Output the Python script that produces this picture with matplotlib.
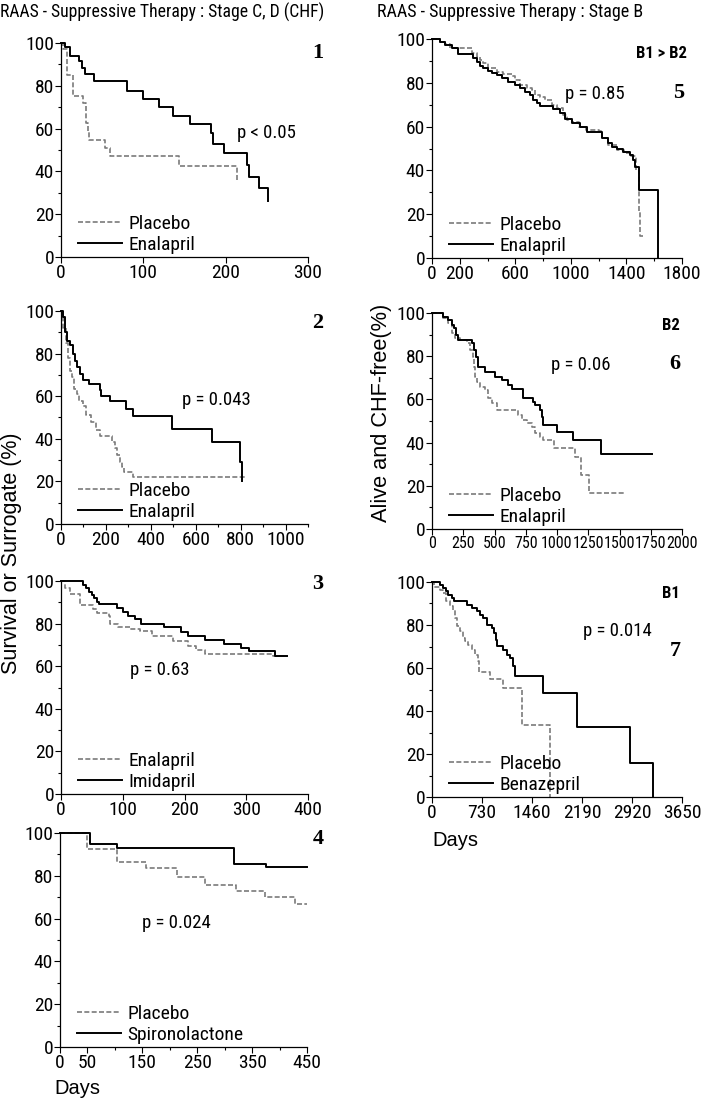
import matplotlib
matplotlib.use("Agg")
import matplotlib.pyplot as plt
from matplotlib import font_manager
from matplotlib.ticker import MultipleLocator, FixedLocator

# pick a narrow sans face if one is installed, else plain Liberation Sans
entries = font_manager.fontManager.ttflist
names = {f.name for f in entries}
narrow = None
for cand in ['Liberation Sans Narrow', 'Roboto Condensed', 'Open Sans Condensed',
             'Noto Sans Condensed', 'DejaVu Sans Condensed', 'Arial Narrow']:
    if cand in names:
        narrow = cand
        break
stretch = 'normal'
if narrow is None:
    for f in entries:
        if str(f.stretch) == 'condensed' and f.style == 'normal' and f.weight in (400, 'normal', 'regular'):
            narrow, stretch = f.name, 'condensed'
            break
if narrow is None:
    narrow = 'Liberation Sans'
    scale = 0.86
else:
    scale = 1.0

plt.rcParams['font.family'] = [narrow, 'DejaVu Sans']
plt.rcParams['font.stretch'] = stretch

# ---- data (days, % surviving) ----
# panel 1 : placebo vs enalapril
p1_plac_t = [0, 3, 7, 14, 27, 30, 33, 34, 53, 60, 143, 214]
p1_plac_s = [100, 97, 85, 75.3, 72, 62.8, 58.6, 54.7, 50.8, 47.2, 42.7, 36]
p1_enal_t = [0, 5, 11, 22, 26, 29, 40, 80, 99, 119, 136, 157, 182, 185, 198, 226, 228, 240, 251]
p1_enal_s = [100, 98, 93.7, 91.7, 88.3, 85.6, 82.3, 77.8, 73.9, 70, 65.9, 62, 57.8, 53, 48.8, 43, 37.5, 32.3, 26]

# panel 2 : placebo vs enalapril
p2_plac_t = [0, 3, 10, 22, 33, 40, 47, 58, 70, 81, 99, 111, 132, 158, 173, 225, 240, 250, 262, 270, 280, 321, 825]
p2_plac_s = [100, 98, 92, 84.8, 78, 72, 68.8, 63.6, 61, 57.8, 55.5, 51, 47.9, 44, 41.4, 38.6, 35.5, 32.3, 29.2, 26.9, 24.5, 21.9, 21.9]
p2_enal_t = [0, 10, 18, 25, 40, 52, 62, 73, 84, 99, 126, 173, 178, 218, 289, 321, 495, 674, 796, 807]
p2_enal_s = [100, 97, 90, 86, 84, 80, 76.5, 73.8, 70.6, 67.8, 65.6, 63, 60, 57.8, 54, 50.8, 44.4, 38.6, 29.2, 20.3]

# panel 3 : enalapril vs imidapril
p3_enal_t = [0, 6, 15, 30, 52, 59, 77, 79, 93, 112, 128, 147, 182, 205, 219, 233, 343, 366]
p3_enal_s = [100, 96.6, 94, 88.8, 86.7, 85, 83.6, 80, 78.6, 77.3, 76.5, 74.2, 71.7, 69.5, 67.5, 65.6, 65, 64.5]
p3_imid_t = [0, 35, 40, 46, 50, 54, 58, 62, 90, 100, 108, 120, 130, 166, 195, 205, 234, 264, 292, 305, 346, 366]
p3_imid_s = [100, 98, 96.5, 95, 93.4, 91.9, 90.3, 89, 87.2, 85.5, 83.6, 82, 79.8, 78.3, 76.2, 74.2, 72.3, 70.3, 68.7, 67.2, 65, 65]

# panel 4 : placebo vs spironolactone
p4_plac_t = [0, 50, 103, 157, 213, 265, 320, 374, 428, 450]
p4_plac_s = [100, 92.7, 86.3, 83.7, 79.5, 75.6, 73, 69.9, 67, 67]
p4_spir_t = [0, 54, 103, 317, 375, 450]
p4_spir_s = [100, 95, 93, 85.7, 84, 84]

# panel 5 : stage B1 > B2, placebo vs enalapril
p5_plac_t = [0, 58, 94, 130, 286, 322, 346, 370, 406, 466, 514, 574, 598, 634, 682, 718, 742, 778, 814,
             862, 898, 946, 970, 1010, 1060, 1110, 1200, 1222, 1270, 1330, 1380, 1430, 1470, 1490, 1500, 1517]
p5_plac_s = [100, 98.8, 97.5, 96, 93.5, 91.9, 90.4, 88.9, 86.9, 85, 83.9, 83.3, 81.3, 79, 77.8, 76.7, 74.4, 73.7, 72.1,
             69.9, 68.3, 65.5, 63, 62, 60, 58.5, 58, 55, 51.5, 49.5, 48, 46.5, 40, 21, 10, 10]
p5_enal_t = [0, 58, 94, 142, 190, 298, 322, 346, 370, 406, 430, 466, 502, 550, 598, 634, 670, 706, 730, 754,
             778, 874, 922, 960, 1006, 1066, 1114, 1222, 1270, 1294, 1330, 1378, 1426, 1450, 1462, 1493, 1630]
p5_enal_s = [100, 98.5, 97.3, 95.7, 93.1, 91.2, 89.3, 87.8, 86.6, 85.4, 84.6, 83.6, 82, 80.5, 79, 77.5, 76, 74.4, 72.1, 70.6,
             69.6, 68, 66, 63.5, 61.5, 60, 57.7, 54.6, 52.4, 50.6, 49.7, 48.6, 47.1, 44.8, 41.7, 31, 0]

# panel 6 : stage B2, placebo vs enalapril
p6_plac_t = [0, 91, 131, 157, 184, 224, 277, 304, 325, 336, 344, 357, 384, 424, 451, 477, 517, 691, 717, 757,
             797, 824, 864, 891, 975, 1147, 1192, 1253, 1533]
p6_plac_s = [100, 97.5, 95.2, 90.6, 88.3, 87.5, 86, 83, 79.8, 75.2, 70.5, 68.2, 65.9, 64.4, 60.5, 58.2, 55.3, 52.8, 50.5, 48.9,
             47, 44.3, 42.7, 41.2, 37.5, 33.5, 25, 16.6, 16.6]
p6_enal_t = [0, 91, 131, 157, 176, 192, 211, 317, 336, 352, 371, 424, 504, 557, 611, 640, 731, 811, 824, 864,
             877, 891, 997, 1131, 1350, 1760]
p6_enal_s = [100, 98.3, 96.8, 94.4, 92.9, 89.8, 87.5, 86, 83, 79.8, 75.2, 72.8, 70.5, 69, 66.5, 65, 60.5, 59, 57.4, 55,
             52, 48, 45, 41, 34.8, 34.8]

# panel 7 : stage B1, placebo vs benazepril
p7_plac_t = [0, 34, 117, 165, 204, 262, 301, 336, 360, 409, 457, 482, 530, 579, 628, 676, 691, 852, 1036, 1314, 1718]
p7_plac_s = [100, 97.5, 96.4, 94.9, 91, 88.7, 87.1, 83.3, 79.4, 77.1, 74, 72.4, 70.9, 68.5, 65.9, 63.1, 58.3, 54.7, 50.5, 33.5, 0]
p7_bena_t = [0, 117, 165, 204, 238, 287, 321, 506, 579, 652, 701, 750, 798, 871, 905, 934, 944, 1041, 1090, 1139,
             1178, 1212, 1625, 2117, 2895, 3221]
p7_bena_s = [100, 98.8, 97.2, 95.7, 94.1, 92.6, 91, 89.5, 87.9, 86.4, 84.8, 83.3, 79.8, 78.6, 76.3, 73.2, 70.1, 68.5, 65.9, 64.7,
             60.8, 56.3, 48.6, 32.6, 16, 0]

p_values = ["p < 0.05", "p = 0.043", "p = 0.63", "p = 0.024", "p = 0.85", "p = 0.06", "p = 0.014"]

W, H = 709, 1101
fig = plt.figure(figsize=(W / 100, H / 100), dpi=100)


def px_axes(left, top, right, bottom):
    # axes from pixel box (origin top-left)
    return fig.add_axes([left / W, 1 - bottom / H, (right - left) / W, (bottom - top) / H])


def km_panel(ax, curves, labels, xmax, major, minor=None, ptext=None, pxy=None, xsize=14):
    ref_t, ref_s, trt_t, trt_s = curves
    ax.step(ref_t, ref_s, where='post', color='#7a7a7a', lw=1.2, ls=(0, (3, 1.4)),
            label=labels[0], clip_on=False)
    ax.step(trt_t, trt_s, where='post', color='black', lw=1.4, label=labels[1], clip_on=False)
    ax.set_xlim(0, xmax)
    ax.set_ylim(0, 100)
    ax.xaxis.set_major_locator(FixedLocator(major))
    if minor is not None:
        ax.xaxis.set_minor_locator(FixedLocator(minor))
    ax.yaxis.set_major_locator(MultipleLocator(20))
    ax.yaxis.set_minor_locator(MultipleLocator(10))
    for s in ['top', 'right']:
        ax.spines[s].set_visible(False)
    for s in ['left', 'bottom']:
        ax.spines[s].set_linewidth(0.9)
    ax.tick_params(which='major', direction='out', length=4, width=0.8, labelsize=14 * scale, pad=1)
    ax.tick_params(axis='x', which='major', labelsize=xsize * scale)
    ax.tick_params(which='minor', direction='out', length=2.5, width=0.8)
    ax.legend(loc='lower left', bbox_to_anchor=(0.02, -0.04), frameon=False, fontsize=14 * scale,
              handlelength=2.3, handletextpad=0.3, labelspacing=0.15, borderaxespad=0.2)
    if ptext:
        ax.text(pxy[0], pxy[1], ptext, ha='center', va='center', fontsize=13.5 * scale)


ax1 = px_axes(61, 43, 308, 257)
km_panel(ax1, (p1_plac_t, p1_plac_s, p1_enal_t, p1_enal_s), ["Placebo", "Enalapril"],
         300, [0, 100, 200, 300], None, p_values[0], (250, 58))

ax2 = px_axes(61, 311, 308, 524)
km_panel(ax2, (p2_plac_t, p2_plac_s, p2_enal_t, p2_enal_s), ["Placebo", "Enalapril"],
         1100, [0, 200, 400, 600, 800, 1000], [100, 300, 500, 700, 900, 1100], p_values[1], (692, 58))

ax3 = px_axes(61, 581, 308, 794)
km_panel(ax3, (p3_enal_t, p3_enal_s, p3_imid_t, p3_imid_s), ["Enalapril", "Imidapril"],
         400, [0, 100, 200, 300, 400], None, p_values[2], (160, 58))

ax4 = px_axes(60, 833, 307, 1047)
km_panel(ax4, (p4_plac_t, p4_plac_s, p4_spir_t, p4_spir_s), ["Placebo", "Spironolactone"],
         450, [0, 50, 150, 250, 350, 450], [100, 200, 300, 400], p_values[3], (212, 58))

ax5 = px_axes(432, 39, 682, 258)
km_panel(ax5, (p5_plac_t, p5_plac_s, p5_enal_t, p5_enal_s), ["Placebo", "Enalapril"],
         1800, [0, 200, 600, 1000, 1400, 1800], [400, 800, 1200, 1600], p_values[4], (1169, 75))

ax6 = px_axes(432, 313, 682, 529)
km_panel(ax6, (p6_plac_t, p6_plac_s, p6_enal_t, p6_enal_s), ["Placebo", "Enalapril"],
         2000, list(range(0, 2001, 250)), None, p_values[5], (1187, 76), xsize=11.5 if scale == 1 else 10.5)

ax7 = px_axes(432, 582, 682, 797)
km_panel(ax7, (p7_plac_t, p7_plac_s, p7_bena_t, p7_bena_s), ["Placebo", "Benazepril"],
         3650, [0, 730, 1460, 2190, 2920, 3650], None, p_values[6], (2700, 77))

# titles, axis labels and panel tags
renderer = fig.canvas.get_renderer()


def fit_text(x, y, s, width_px, size, **kw):
    t = fig.text(x / W, 1 - y / H, s, fontsize=size, **kw)
    w = t.get_window_extent(renderer).width
    if w > width_px:
        t.set_fontsize(size * width_px / w)
    return t


fit_text(0, 12, "RAAS - Suppressive Therapy : Stage C, D (CHF)", 326, 14, va='center', ha='left')
fit_text(377, 12, "RAAS - Suppressive Therapy : Stage B", 268, 14, va='center', ha='left')
fig.text(12 / W, 1 - 553 / H, "Survival or Surrogate (%)", rotation=90, fontsize=15.5,
         family='Liberation Sans', va='center', ha='center')
fig.text(381 / W, 1 - 413 / H, "Alive and CHF-free(%)", rotation=90, fontsize=15.7,
         family='Liberation Sans', va='center', ha='center')
fig.text(77 / W, 1 - 1088 / H, "Days", fontsize=14.5, family='Liberation Sans', va='center', ha='center')
fig.text(455 / W, 1 - 840 / H, "Days", fontsize=14.5, family='Liberation Sans', va='center', ha='center')

for tag, x, y in [("1", 318, 53), ("2", 318, 323), ("3", 318, 584), ("4", 318, 839),
                  ("5", 679, 93), ("6", 675, 364), ("7", 675, 651)]:
    fig.text(x / W, 1 - y / H, tag, fontsize=16, family='Liberation Serif', weight='bold',
             va='center', ha='center')
for tag, x, y in [("B1 > B2", 687, 54), ("B2", 680, 325), ("B1", 680, 593)]:
    fig.text(x / W, 1 - y / H, tag, fontsize=12 * scale, weight='bold', va='center', ha='right')

fig.savefig("out.png", dpi=100)
